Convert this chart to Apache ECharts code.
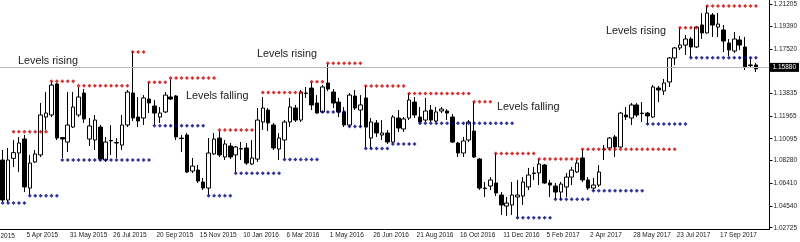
<!DOCTYPE html>
<html><head><meta charset="utf-8">
<script src="https://cdn.jsdelivr.net/npm/echarts@6/dist/echarts.min.js"></script>
<style>html,body{margin:0;padding:0;background:#fff}#c{width:800px;height:242px}</style>
</head><body><div id="c"></div>
<script>
// Weekly EURUSD candles, first bar = week of 8 Mar 2015
const open  = [1.0833,1.0502,1.0847,1.0891,1.1007,1.0601,1.0817,1.0875,1.1189,1.1206,1.1463,1.1019,1.0982,1.1106,1.1206,1.1388,1.1007,1.0999,1.1106,1.0833,1.0991,1.0974,1.0957,1.1123,1.1388,1.1189,1.1181,1.1338,1.1280,1.1189,1.1231,1.1355,1.1363,1.1015,1.1040,1.0742,1.0750,1.0651,1.0601,1.0883,1.1015,1.0858,1.0949,1.0875,1.0928,1.0933,1.0800,1.0841,1.1148,1.1247,1.1123,1.0924,1.0999,1.1148,1.1264,1.1164,1.1384,1.1429,1.1305,1.1231,1.1471,1.1396,1.1313,1.1231,1.1123,1.1363,1.1247,1.1347,1.1015,1.1140,1.1040,1.1057,1.0982,1.1181,1.1090,1.1181,1.1313,1.1189,1.1164,1.1247,1.1156,1.1239,1.1239,1.1189,1.0974,1.0891,1.0999,1.1073,1.0841,1.0601,1.0618,1.0643,1.0543,1.0452,1.0461,1.0527,1.0535,1.0610,1.0721,1.0726,1.0792,1.0643,1.0618,1.0568,1.0610,1.0692,1.0734,1.0850,1.0668,1.0601,1.0626,1.0924,1.0933,1.1024,1.0941,1.1206,1.1181,1.1289,1.1222,1.1222,1.1189,1.1429,1.1405,1.1479,1.1678,1.1761,1.1785,1.1835,1.1769,1.1951,1.1885,1.2034,1.1934,1.1910,1.1802,1.1736,1.1827,1.1769,1.1620,1.1620];
const high  = [1.0916,1.0933,1.0999,1.1024,1.1040,1.0875,1.0916,1.1305,1.1396,1.1480,1.1471,1.1024,1.1396,1.1396,1.1438,1.1421,1.1181,1.1206,1.1123,1.1024,1.1123,1.1015,1.1206,1.1413,1.1735,1.1355,1.1371,1.1471,1.1330,1.1272,1.1396,1.1505,1.1371,1.1040,1.1057,1.0850,1.0792,1.0684,1.1015,1.1057,1.1075,1.0999,1.0974,1.0949,1.0982,1.0974,1.0999,1.1264,1.1355,1.1264,1.1140,1.1057,1.1164,1.1347,1.1289,1.1413,1.1438,1.1479,1.1371,1.1454,1.1630,1.1421,1.1347,1.1272,1.1388,1.1413,1.1371,1.1446,1.1181,1.1164,1.1164,1.1082,1.1206,1.1247,1.1189,1.1385,1.1355,1.1272,1.1347,1.1289,1.1272,1.1272,1.1255,1.1214,1.0982,1.1024,1.1164,1.1316,1.0850,1.0651,1.0692,1.0889,1.0568,1.0527,1.0651,1.0668,1.0692,1.0767,1.0775,1.0841,1.0800,1.0668,1.0643,1.0651,1.0726,1.0775,1.0833,1.0922,1.0692,1.0684,1.0792,1.0957,1.1024,1.1040,1.1231,1.1272,1.1305,1.1305,1.1313,1.1230,1.1454,1.1446,1.1504,1.1686,1.1769,1.1929,1.1868,1.1852,1.1943,1.2050,1.2108,1.2050,1.2050,1.1951,1.1835,1.1893,1.1860,1.1852,1.1678,1.1636];
const low   = [1.0485,1.0485,1.0775,1.0734,1.0568,1.0545,1.0808,1.0858,1.1082,1.1189,1.0999,1.0850,1.0899,1.1098,1.1189,1.1140,1.0949,1.0916,1.0825,1.0817,1.0875,1.0850,1.0916,1.1106,1.1156,1.1106,1.1123,1.1222,1.1123,1.1140,1.1222,1.1330,1.0999,1.0899,1.0726,1.0726,1.0643,1.0585,1.0545,1.0875,1.0858,1.0833,1.0841,1.0734,1.0833,1.0792,1.0792,1.0817,1.1082,1.1073,1.0916,1.0833,1.0845,1.1106,1.1148,1.1148,1.1347,1.1247,1.1218,1.1222,1.1405,1.1264,1.1189,1.1106,1.1106,1.1247,1.1106,1.0935,1.0928,1.1024,1.0999,1.0966,1.0974,1.1065,1.1065,1.1164,1.1181,1.1140,1.1148,1.1148,1.1148,1.1222,1.1164,1.0974,1.0858,1.0858,1.0982,1.0850,1.0585,1.0527,1.0585,1.0535,1.0378,1.0370,1.0378,1.0355,1.0461,1.0585,1.0668,1.0626,1.0635,1.0527,1.0508,1.0502,1.0527,1.0626,1.0726,1.0651,1.0585,1.0579,1.0610,1.0833,1.0916,1.0858,1.0933,1.1164,1.1123,1.1189,1.1148,1.1131,1.1181,1.1313,1.1371,1.1438,1.1620,1.1744,1.1703,1.1680,1.1761,1.1835,1.1880,1.1852,1.1852,1.1727,1.1694,1.1719,1.1744,1.1578,1.1595,1.1562];
const close = [1.0502,1.0833,1.0894,1.0974,1.0610,1.0808,1.0883,1.1206,1.1222,1.1454,1.1015,1.1007,1.1123,1.1272,1.1355,1.1173,1.1115,1.1164,1.0841,1.0982,1.0995,1.0978,1.1123,1.1396,1.1181,1.1156,1.1347,1.1305,1.1222,1.1222,1.1371,1.1338,1.1024,1.1011,1.0734,1.0783,1.0659,1.0601,1.0891,1.1007,1.0875,1.0966,1.0858,1.0941,1.0924,1.0808,1.0850,1.1164,1.1264,1.1140,1.0933,1.1015,1.1148,1.1272,1.1164,1.1396,1.1388,1.1289,1.1222,1.1438,1.1421,1.1305,1.1231,1.1123,1.1371,1.1264,1.1289,1.1106,1.1148,1.1057,1.1057,1.0982,1.1189,1.1098,1.1173,1.1330,1.1206,1.1148,1.1239,1.1164,1.1231,1.1255,1.1222,1.0982,1.0891,1.0991,1.1148,1.0858,1.0601,1.0597,1.0668,1.0560,1.0461,1.0477,1.0543,1.0543,1.0651,1.0709,1.0726,1.0800,1.0643,1.0626,1.0568,1.0634,1.0692,1.0750,1.0808,1.0668,1.0601,1.0626,1.0734,1.0920,1.1015,1.0941,1.1222,1.1189,1.1289,1.1206,1.1218,1.1198,1.1438,1.1413,1.1471,1.1678,1.1761,1.1785,1.1835,1.1769,1.1934,1.1885,1.2050,1.1951,1.1959,1.1818,1.1744,1.1835,1.1785,1.1603,1.1616,1.1588];

// Resistance (red) and support (blue) levels: bar ranges and price
const resStart = [2,9,14,24,27,31,40,48,57,60,67,75,87,91,99,107,125,130];
const resEnd   = [8,13,23,26,30,39,46,55,59,66,74,86,90,98,106,124,128,139];
const resLevel = [1.1068,1.1485,1.1448,1.1727,1.1477,1.1512,1.1082,1.1392,1.1482,1.1634,1.1446,1.1384,1.1316,1.0887,1.0841,1.0922,1.1929,1.2108];
const supStart = [0,5,11,28,38,43,52,59,64,67,72,77,95,102,109,119,127];
const supEnd   = [4,10,27,37,42,51,58,63,66,71,76,94,101,108,118,126,139];
const supLevel = [1.0477,1.0538,1.0833,1.1117,1.0538,1.0723,1.0837,1.1231,1.1111,1.0928,1.0966,1.1137,1.0355,1.0508,1.0579,1.1131,1.1680];

const currentPrice = 1.15880;
const xTickIndex  = [4,12,20,28,36,44,52,60,68,76,84,92,100,108,116,124,132];
const xTickLabels = ['5 Apr 2015','31 May 2015','26 Jul 2015','20 Sep 2015','15 Nov 2015','10 Jan 2016','6 Mar 2016','1 May 2016','26 Jun 2016','21 Aug 2016','16 Oct 2016','11 Dec 2016','5 Feb 2017','2 Apr 2017','28 May 2017','23 Jul 2017','17 Sep 2017'];
const yTicks = [1.21205,1.19390,1.17520,1.13835,1.11965,1.10095,1.08280,1.06410,1.04540,1.02725];

const nSlots = 142; // includes right-hand chart shift
const categories = [];
for (let i = 0; i < nSlots; i++) {
  const d = new Date(Date.UTC(2015, 2, 8) + i * 7 * 86400000);
  categories.push(d.toISOString().slice(0, 10));
}
const candles = open.map((o, i) => [o, close[i], low[i], high[i]]);
function expand(st, en, lv) {
  const out = [];
  st.forEach((s, k) => { for (let i = s; i <= en[k]; i++) out.push([i, lv[k]]); });
  return out;
}
const labelMap = {};
xTickIndex.forEach((ix, k) => labelMap[ix] = xTickLabels[k]);
const isTick = (idx) => labelMap[idx] !== undefined;

const FONT = '"Liberation Sans", Arial, sans-serif';
const chart = echarts.init(document.getElementById('c'));
chart.setOption({
  animation: false,
  backgroundColor: '#fff',
  grid: { left: 0, right: 28, top: 0, bottom: 13, containLabel: false },
  xAxis: {
    type: 'category', data: categories, boundaryGap: true,
    axisLine: { lineStyle: { color: '#000', width: 1 } },
    axisTick: { alignWithLabel: true, interval: (i) => isTick(i), length: 4, lineStyle: { color: '#000' } },
    axisLabel: { interval: (i) => isTick(i), formatter: (v, i) => labelMap[i] || '', align: 'left',
      fontSize: 6.5, fontFamily: FONT, color: '#222', margin: 3, padding: [0, 0, 0, 2] },
    splitLine: { show: false }
  },
  yAxis: {
    type: 'value', position: 'right', min: 1.0262, max: 1.2158,
    axisLine: { show: true, lineStyle: { color: '#000', width: 1 } },
    axisTick: { show: true, customValues: yTicks, length: 3, lineStyle: { color: '#000' } },
    axisLabel: { customValues: yTicks, formatter: (v) => v.toFixed(5), fontSize: 6.5, fontFamily: FONT, color: '#222', margin: 4 },
    splitLine: { show: false }
  },
  series: [
    {
      type: 'candlestick', data: candles, barWidth: 4,
      itemStyle: { color: '#fff', color0: '#000', borderColor: '#000', borderColor0: '#000', borderColorDoji: '#000', borderWidth: 1 },
      markLine: {
        silent: true, symbol: ['none', 'none'], animation: false,
        data: [{ yAxis: currentPrice }],
        lineStyle: { color: '#b8b8b8', width: 1, type: 'solid' },
        label: { position: 'end', formatter: currentPrice.toFixed(5), color: '#fff', backgroundColor: '#000',
          padding: [1, 3, 1, 3], fontSize: 6.5, fontFamily: FONT, distance: 0 }
      },
      z: 2
    },
    { type: 'scatter', data: expand(resStart, resEnd, resLevel), symbol: 'diamond', symbolSize: 4,
      itemStyle: { color: '#c80000' }, z: 3 },
    { type: 'scatter', data: expand(supStart, supEnd, supLevel), symbol: 'diamond', symbolSize: 4,
      itemStyle: { color: '#00007e' }, z: 3 }
  ],
  graphic: [
    { type: 'text', x: -18, y: 236, z: 100, style: { text: '8 Feb 2015', fill: '#222', font: '6.5px ' + FONT, verticalAlign: 'middle', textVerticalAlign: 'middle' } },
    { type: 'text', x: 18, y: 61, z: 100, style: { text: 'Levels rising', fill: '#1a1a1a', font: '10.8px ' + FONT, verticalAlign: 'middle', textVerticalAlign: 'middle' } },
    { type: 'text', x: 186, y: 96, z: 100, style: { text: 'Levels falling', fill: '#1a1a1a', font: '10.8px ' + FONT, verticalAlign: 'middle', textVerticalAlign: 'middle' } },
    { type: 'text', x: 257, y: 54.5, z: 100, style: { text: 'Levels rising', fill: '#1a1a1a', font: '10.8px ' + FONT, verticalAlign: 'middle', textVerticalAlign: 'middle' } },
    { type: 'text', x: 497, y: 107, z: 100, style: { text: 'Levels falling', fill: '#1a1a1a', font: '10.8px ' + FONT, verticalAlign: 'middle', textVerticalAlign: 'middle' } },
    { type: 'text', x: 606, y: 31, z: 100, style: { text: 'Levels rising', fill: '#1a1a1a', font: '10.8px ' + FONT, verticalAlign: 'middle', textVerticalAlign: 'middle' } }
  ]
});
</script></body></html>
